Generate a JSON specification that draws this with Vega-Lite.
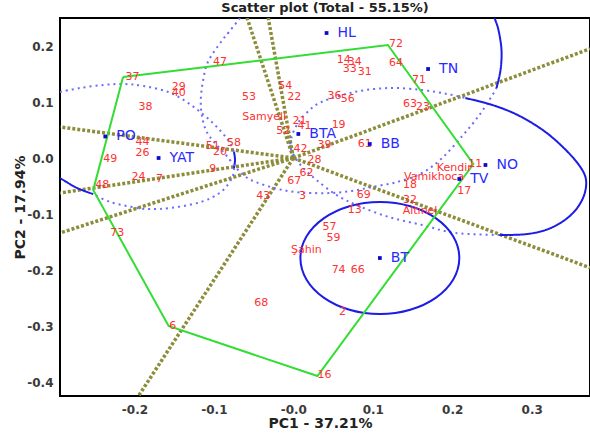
{
  "$schema": "https://vega.github.io/schema/vega-lite/v6.json",
  "width": 530,
  "height": 378,
  "autosize": {"type": "none"},
  "padding": {"left": 60, "top": 18, "right": 0, "bottom": 39},
  "background": "white",
  "title": {"text": "Scatter plot (Total - 55.15%)", "font": "DejaVu Sans", "fontSize": 13, "fontWeight": "bold", "color": "#222222", "anchor": "middle", "offset": 3},
  "config": {
    "view": {"stroke": "black", "strokeWidth": 2},
    "axis": {"domain": false, "ticks": false, "grid": false, "labelFont": "DejaVu Sans", "labelFontSize": 12, "labelFontWeight": "bold", "labelColor": "#3a3a3a", "titleFont": "DejaVu Sans", "titleFontSize": 14, "titleFontWeight": "bold", "titleColor": "#222222"}
  },
  "datasets": {
    "hull": [
      {"ord": 1, "x": -0.2143, "y": 0.1446},
      {"ord": 2, "x": 0.1190, "y": 0.2018},
      {"ord": 3, "x": 0.2266, "y": -0.0107},
      {"ord": 4, "x": 0.0304, "y": -0.3893},
      {"ord": 5, "x": -0.1570, "y": -0.3000},
      {"ord": 6, "x": -0.2519, "y": -0.0571},
      {"ord": 7, "x": -0.2143, "y": 0.1446}
    ],
    "rays": [
      {"ray": 1, "ord": 0, "x": 0, "y": 0}, {"ray": 1, "ord": 1, "x": -0.0582, "y": 0.25},
      {"ray": 2, "ord": 0, "x": 0, "y": 0}, {"ray": 2, "ord": 1, "x": -0.0316, "y": 0.25},
      {"ray": 3, "ord": 0, "x": 0, "y": 0}, {"ray": 3, "ord": 1, "x": -0.2937, "y": 0.0554},
      {"ray": 4, "ord": 0, "x": 0, "y": 0}, {"ray": 4, "ord": 1, "x": -0.2937, "y": -0.0625},
      {"ray": 5, "ord": 0, "x": 0, "y": 0}, {"ray": 5, "ord": 1, "x": -0.2937, "y": -0.1339},
      {"ray": 6, "ord": 0, "x": 0, "y": 0}, {"ray": 6, "ord": 1, "x": -0.1949, "y": -0.4250},
      {"ray": 7, "ord": 0, "x": 0, "y": 0}, {"ray": 7, "ord": 1, "x": 0.3734, "y": 0.1950},
      {"ray": 8, "ord": 0, "x": 0, "y": 0}, {"ray": 8, "ord": 1, "x": 0.3734, "y": -0.1960}
    ],
    "curves": [
      {"seg": "c1a", "style": "dotted", "ord": 1, "x": -0.2937, "y": 0.1179},
      {"seg": "c1a", "style": "dotted", "ord": 2, "x": -0.2684, "y": 0.1250},
      {"seg": "c1a", "style": "dotted", "ord": 3, "x": -0.2392, "y": 0.1304},
      {"seg": "c1a", "style": "dotted", "ord": 4, "x": -0.2139, "y": 0.1321},
      {"seg": "c1a", "style": "dotted", "ord": 5, "x": -0.1886, "y": 0.1286},
      {"seg": "c1a", "style": "dotted", "ord": 6, "x": -0.1544, "y": 0.1161},
      {"seg": "c1a", "style": "dotted", "ord": 7, "x": -0.1253, "y": 0.0911},
      {"seg": "c1a", "style": "dotted", "ord": 8, "x": -0.1000, "y": 0.0607},
      {"seg": "c1a", "style": "dotted", "ord": 9, "x": -0.0823, "y": 0.0321},
      {"seg": "c1a", "style": "dotted", "ord": 10, "x": -0.0747, "y": 0.0107},
      {"seg": "c1b", "style": "solid", "ord": 1, "x": -0.0747, "y": 0.0107},
      {"seg": "c1b", "style": "solid", "ord": 2, "x": -0.0734, "y": -0.0036},
      {"seg": "c1b", "style": "solid", "ord": 3, "x": -0.0747, "y": -0.0179},
      {"seg": "c1c", "style": "dotted", "ord": 1, "x": -0.0747, "y": -0.0179},
      {"seg": "c1c", "style": "dotted", "ord": 2, "x": -0.0772, "y": -0.0357},
      {"seg": "c1c", "style": "dotted", "ord": 3, "x": -0.0911, "y": -0.0607},
      {"seg": "c1c", "style": "dotted", "ord": 4, "x": -0.1165, "y": -0.0786},
      {"seg": "c1c", "style": "dotted", "ord": 5, "x": -0.1544, "y": -0.0893},
      {"seg": "c1c", "style": "dotted", "ord": 6, "x": -0.1797, "y": -0.0911},
      {"seg": "c1c", "style": "dotted", "ord": 7, "x": -0.1962, "y": -0.0893},
      {"seg": "c1c", "style": "dotted", "ord": 8, "x": -0.2304, "y": -0.0786},
      {"seg": "c1c", "style": "dotted", "ord": 9, "x": -0.2519, "y": -0.0643},
      {"seg": "c1d", "style": "solid", "ord": 1, "x": -0.2519, "y": -0.0643},
      {"seg": "c1d", "style": "solid", "ord": 2, "x": -0.2722, "y": -0.0536},
      {"seg": "c1d", "style": "solid", "ord": 3, "x": -0.2937, "y": -0.0357},
      {"seg": "c2a", "style": "dotted", "ord": 1, "x": -0.0671, "y": 0.2500},
      {"seg": "c2a", "style": "dotted", "ord": 2, "x": -0.0810, "y": 0.2250},
      {"seg": "c2a", "style": "dotted", "ord": 3, "x": -0.0911, "y": 0.2071},
      {"seg": "c2a", "style": "dotted", "ord": 4, "x": -0.1076, "y": 0.1714},
      {"seg": "c2a", "style": "dotted", "ord": 5, "x": -0.1139, "y": 0.1357},
      {"seg": "c2a", "style": "dotted", "ord": 6, "x": -0.1165, "y": 0.1036},
      {"seg": "c2a", "style": "dotted", "ord": 7, "x": -0.1152, "y": 0.0768},
      {"seg": "c2a", "style": "dotted", "ord": 8, "x": -0.1101, "y": 0.0500},
      {"seg": "c2a", "style": "dotted", "ord": 9, "x": -0.1000, "y": 0.0286},
      {"seg": "c2a", "style": "dotted", "ord": 10, "x": -0.0848, "y": 0.0054},
      {"seg": "c2a", "style": "dotted", "ord": 11, "x": -0.0696, "y": -0.0214},
      {"seg": "c2a", "style": "dotted", "ord": 12, "x": -0.0532, "y": -0.0393},
      {"seg": "c2a", "style": "dotted", "ord": 13, "x": -0.0241, "y": -0.0536},
      {"seg": "c2a", "style": "dotted", "ord": 14, "x": 0.0013, "y": -0.0607},
      {"seg": "c2a", "style": "dotted", "ord": 15, "x": 0.0228, "y": -0.0625},
      {"seg": "c2a", "style": "dotted", "ord": 16, "x": 0.0481, "y": -0.0625},
      {"seg": "c2a", "style": "dotted", "ord": 17, "x": 0.0734, "y": -0.0589},
      {"seg": "c2a", "style": "dotted", "ord": 18, "x": 0.0987, "y": -0.0518},
      {"seg": "c2a", "style": "dotted", "ord": 19, "x": 0.1304, "y": -0.0429},
      {"seg": "c2a", "style": "dotted", "ord": 20, "x": 0.1620, "y": -0.0268},
      {"seg": "c2a", "style": "dotted", "ord": 21, "x": 0.1873, "y": 0.0000},
      {"seg": "c2a", "style": "dotted", "ord": 22, "x": 0.2127, "y": 0.0393},
      {"seg": "c2a", "style": "dotted", "ord": 23, "x": 0.2342, "y": 0.0768},
      {"seg": "c2a", "style": "dotted", "ord": 24, "x": 0.2506, "y": 0.1125},
      {"seg": "c2a", "style": "dotted", "ord": 25, "x": 0.2557, "y": 0.1250},
      {"seg": "c2b", "style": "solid", "ord": 1, "x": 0.2557, "y": 0.1250},
      {"seg": "c2b", "style": "solid", "ord": 2, "x": 0.2608, "y": 0.1571},
      {"seg": "c2b", "style": "solid", "ord": 3, "x": 0.2620, "y": 0.1929},
      {"seg": "c2b", "style": "solid", "ord": 4, "x": 0.2582, "y": 0.2286},
      {"seg": "c2b", "style": "solid", "ord": 5, "x": 0.2532, "y": 0.2500},
      {"seg": "c3a", "style": "dotted", "ord": 1, "x": 0.2595, "y": -0.1375},
      {"seg": "c3a", "style": "dotted", "ord": 2, "x": 0.2038, "y": -0.1339},
      {"seg": "c3a", "style": "dotted", "ord": 3, "x": 0.1620, "y": -0.1196},
      {"seg": "c3a", "style": "dotted", "ord": 4, "x": 0.1203, "y": -0.1054},
      {"seg": "c3a", "style": "dotted", "ord": 5, "x": 0.0823, "y": -0.0857},
      {"seg": "c3a", "style": "dotted", "ord": 6, "x": 0.0544, "y": -0.0661},
      {"seg": "c3a", "style": "dotted", "ord": 7, "x": 0.0291, "y": -0.0393},
      {"seg": "c3a", "style": "dotted", "ord": 8, "x": 0.0101, "y": -0.0143},
      {"seg": "c3a", "style": "dotted", "ord": 9, "x": -0.0025, "y": 0.0143},
      {"seg": "c3a", "style": "dotted", "ord": 10, "x": -0.0025, "y": 0.0357},
      {"seg": "c3a", "style": "dotted", "ord": 11, "x": 0.0051, "y": 0.0607},
      {"seg": "c3a", "style": "dotted", "ord": 12, "x": 0.0165, "y": 0.0804},
      {"seg": "c3a", "style": "dotted", "ord": 13, "x": 0.0354, "y": 0.1000},
      {"seg": "c3a", "style": "dotted", "ord": 14, "x": 0.0772, "y": 0.1179},
      {"seg": "c3a", "style": "dotted", "ord": 15, "x": 0.1203, "y": 0.1250},
      {"seg": "c3a", "style": "dotted", "ord": 16, "x": 0.1620, "y": 0.1214},
      {"seg": "c3a", "style": "dotted", "ord": 17, "x": 0.1937, "y": 0.1143},
      {"seg": "c3a", "style": "dotted", "ord": 18, "x": 0.2165, "y": 0.1071},
      {"seg": "c3b", "style": "solid", "ord": 1, "x": 0.2165, "y": 0.1071},
      {"seg": "c3b", "style": "solid", "ord": 2, "x": 0.2506, "y": 0.0946},
      {"seg": "c3b", "style": "solid", "ord": 3, "x": 0.2823, "y": 0.0768},
      {"seg": "c3b", "style": "solid", "ord": 4, "x": 0.3139, "y": 0.0500},
      {"seg": "c3b", "style": "solid", "ord": 5, "x": 0.3392, "y": 0.0196},
      {"seg": "c3b", "style": "solid", "ord": 6, "x": 0.3595, "y": -0.0125},
      {"seg": "c3b", "style": "solid", "ord": 7, "x": 0.3684, "y": -0.0393},
      {"seg": "c3b", "style": "solid", "ord": 8, "x": 0.3646, "y": -0.0714},
      {"seg": "c3b", "style": "solid", "ord": 9, "x": 0.3494, "y": -0.1018},
      {"seg": "c3b", "style": "solid", "ord": 10, "x": 0.3241, "y": -0.1250},
      {"seg": "c3b", "style": "solid", "ord": 11, "x": 0.2949, "y": -0.1357},
      {"seg": "c3b", "style": "solid", "ord": 12, "x": 0.2595, "y": -0.1375}
    ],
    "btcircle": [
      {"ord": 1, "x": 0.2089, "y": -0.1786},
      {"ord": 2, "x": 0.2013, "y": -0.1403},
      {"ord": 3, "x": 0.1796, "y": -0.1079},
      {"ord": 4, "x": 0.1472, "y": -0.0862},
      {"ord": 5, "x": 0.1089, "y": -0.0786},
      {"ord": 6, "x": 0.0706, "y": -0.0862},
      {"ord": 7, "x": 0.0382, "y": -0.1079},
      {"ord": 8, "x": 0.0165, "y": -0.1403},
      {"ord": 9, "x": 0.0089, "y": -0.1786},
      {"ord": 10, "x": 0.0165, "y": -0.2169},
      {"ord": 11, "x": 0.0382, "y": -0.2493},
      {"ord": 12, "x": 0.0706, "y": -0.2710},
      {"ord": 13, "x": 0.1089, "y": -0.2786},
      {"ord": 14, "x": 0.1472, "y": -0.2710},
      {"ord": 15, "x": 0.1796, "y": -0.2493},
      {"ord": 16, "x": 0.2013, "y": -0.2169}
    ],
    "geno": [
      {"label": "47", "x": -0.0924, "y": 0.1714},
      {"label": "37", "x": -0.2025, "y": 0.1446},
      {"label": "29", "x": -0.1443, "y": 0.1268},
      {"label": "40", "x": -0.1443, "y": 0.1161},
      {"label": "38", "x": -0.1861, "y": 0.0911},
      {"label": "53", "x": -0.0557, "y": 0.1089},
      {"label": "54", "x": -0.0101, "y": 0.1286},
      {"label": "22", "x": 0.0013, "y": 0.1089},
      {"label": "Samyeli", "x": -0.0367, "y": 0.0732},
      {"label": "52", "x": -0.0127, "y": 0.0482},
      {"label": "21", "x": 0.0076, "y": 0.0661},
      {"label": "41", "x": 0.0139, "y": 0.0571},
      {"label": "14", "x": 0.0633, "y": 0.1750},
      {"label": "34", "x": 0.0772, "y": 0.1714},
      {"label": "33", "x": 0.0709, "y": 0.1589},
      {"label": "31", "x": 0.0899, "y": 0.1536},
      {"label": "72", "x": 0.1291, "y": 0.2036},
      {"label": "64", "x": 0.1291, "y": 0.1696},
      {"label": "71", "x": 0.1582, "y": 0.1393},
      {"label": "36", "x": 0.0519, "y": 0.1107},
      {"label": "56", "x": 0.0684, "y": 0.1054},
      {"label": "63", "x": 0.1468, "y": 0.0964},
      {"label": "23", "x": 0.1633, "y": 0.0911},
      {"label": "19", "x": 0.0570, "y": 0.0589},
      {"label": "39", "x": 0.0392, "y": 0.0232},
      {"label": "61", "x": 0.0899, "y": 0.0250},
      {"label": "44", "x": -0.1899, "y": 0.0286},
      {"label": "26", "x": -0.1899, "y": 0.0089},
      {"label": "49", "x": -0.2304, "y": -0.0018},
      {"label": "51", "x": -0.1013, "y": 0.0214},
      {"label": "20", "x": -0.0924, "y": 0.0107},
      {"label": "58", "x": -0.0747, "y": 0.0268},
      {"label": "9", "x": -0.1013, "y": -0.0196},
      {"label": "24", "x": -0.1949, "y": -0.0339},
      {"label": "7", "x": -0.1684, "y": -0.0375},
      {"label": "48", "x": -0.2405, "y": -0.0482},
      {"label": "73", "x": -0.2215, "y": -0.1339},
      {"label": "43", "x": -0.0380, "y": -0.0679},
      {"label": "3", "x": 0.0114, "y": -0.0679},
      {"label": "67", "x": 0.0013, "y": -0.0411},
      {"label": "62", "x": 0.0165, "y": -0.0268},
      {"label": "28", "x": 0.0266, "y": -0.0036},
      {"label": "42", "x": 0.0089, "y": 0.0161},
      {"label": "Kendir", "x": 0.2025, "y": -0.0179},
      {"label": "11", "x": 0.2291, "y": -0.0107},
      {"label": "Vamikhoca", "x": 0.1772, "y": -0.0339},
      {"label": "18", "x": 0.1468, "y": -0.0482},
      {"label": "17", "x": 0.2152, "y": -0.0589},
      {"label": "69", "x": 0.0886, "y": -0.0661},
      {"label": "32", "x": 0.1468, "y": -0.0750},
      {"label": "13", "x": 0.0772, "y": -0.0929},
      {"label": "Altınel", "x": 0.1595, "y": -0.0946},
      {"label": "57", "x": 0.0456, "y": -0.1232},
      {"label": "59", "x": 0.0506, "y": -0.1429},
      {"label": "Şahin", "x": 0.0165, "y": -0.1643},
      {"label": "74", "x": 0.0570, "y": -0.2000},
      {"label": "66", "x": 0.0810, "y": -0.2000},
      {"label": "2", "x": 0.0620, "y": -0.2750},
      {"label": "68", "x": -0.0405, "y": -0.2589},
      {"label": "6", "x": -0.1519, "y": -0.3000},
      {"label": "16", "x": 0.0392, "y": -0.3875}
    ],
    "env": [
      {"label": "HL", "x": 0.0418, "y": 0.2232},
      {"label": "TN", "x": 0.1696, "y": 0.1589},
      {"label": "PO", "x": -0.2367, "y": 0.0384},
      {"label": "YAT", "x": -0.1696, "y": 0.0},
      {"label": "BTA", "x": 0.0063, "y": 0.0429},
      {"label": "BB", "x": 0.0962, "y": 0.0250},
      {"label": "NO", "x": 0.2418, "y": -0.0125},
      {"label": "TV", "x": 0.2089, "y": -0.0375},
      {"label": "BT", "x": 0.1089, "y": -0.1786}
    ]
  },
  "encoding": {
    "x": {
      "field": "x", "type": "quantitative",
      "scale": {"domain": [-0.2937, 0.3734], "nice": false, "zero": false},
      "axis": {"values": [-0.2, -0.1, 0, 0.1, 0.2, 0.3], "labelExpr": "datum.value == 0 ? '-0.0' : replace(format(datum.value, '.1f'), '\u2212', '-')", "title": "PC1 - 37.21%", "labelPadding": 8, "titleX": 260, "titleY": 27, "titleBaseline": "middle"}
    },
    "y": {
      "field": "y", "type": "quantitative",
      "scale": {"domain": [-0.425, 0.25], "nice": false, "zero": false},
      "axis": {"values": [-0.4, -0.3, -0.2, -0.1, 0, 0.1, 0.2], "labelExpr": "replace(format(datum.value, '.1f'), '\u2212', '-')", "title": "PC2 - 17.94%", "labelPadding": 7, "titleX": -40, "titleY": 189, "titleAngle": -90, "titleBaseline": "middle"}
    }
  },
  "layer": [
    {
      "data": {"name": "rays"},
      "mark": {"type": "line", "clip": true, "color": "#8c8c3a", "strokeWidth": 3.5, "strokeDash": [3, 2]},
      "encoding": {"detail": {"field": "ray", "type": "nominal"}, "order": {"field": "ord", "type": "quantitative"}}
    },
    {
      "data": {"name": "curves"},
      "mark": {"type": "line", "clip": true, "strokeWidth": 2, "interpolate": "cardinal"},
      "encoding": {
        "detail": {"field": "seg", "type": "nominal"},
        "order": {"field": "ord", "type": "quantitative"},
        "color": {"field": "style", "type": "nominal", "scale": {"domain": ["solid", "dotted"], "range": ["#1c1ce6", "#6a6aff"]}, "legend": null},
        "strokeDash": {"field": "style", "type": "nominal", "scale": {"domain": ["solid", "dotted"], "range": [[1, 0], [2, 4]]}, "legend": null}
      }
    },
    {
      "data": {"name": "btcircle"},
      "mark": {"type": "line", "clip": true, "strokeWidth": 2, "color": "#1c1ce6", "interpolate": "cardinal-closed"},
      "encoding": {"order": {"field": "ord", "type": "quantitative"}}
    },
    {
      "data": {"name": "hull"},
      "mark": {"type": "line", "clip": true, "color": "#33dd33", "strokeWidth": 2},
      "encoding": {"order": {"field": "ord", "type": "quantitative"}}
    },
    {
      "data": {"name": "geno"},
      "mark": {"type": "text", "font": "DejaVu Sans", "fontSize": 11, "color": "#ff3030", "align": "center", "baseline": "middle"},
      "encoding": {"text": {"field": "label", "type": "nominal"}}
    },
    {
      "data": {"name": "env"},
      "mark": {"type": "point", "shape": "square", "filled": true, "size": 14, "color": "#0a0acc", "opacity": 1},
      "encoding": {}
    },
    {
      "data": {"name": "env"},
      "mark": {"type": "text", "font": "DejaVu Sans", "fontSize": 14, "color": "#2a2aff", "align": "left", "baseline": "middle", "dx": 11},
      "encoding": {"text": {"field": "label", "type": "nominal"}}
    }
  ]
}
